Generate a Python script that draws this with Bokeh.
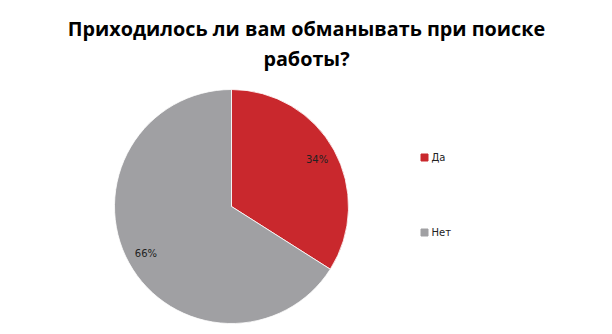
import math
from bokeh.plotting import figure
from bokeh.models import Range1d, ColumnDataSource
from bokeh.core.properties import value
from bokeh.embed import file_html
from bokeh.resources import INLINE

title_lines = ["Приходилось ли вам обманывать при поиске", "работы?"]
categories = ["Да", "Нет"]
values = [34, 66]
colors = ["#C9282D", "#A0A0A3"]

W, H = 612, 334
p = figure(width=W, height=H, output_backend="svg", toolbar_location=None,
           x_range=Range1d(0, W), y_range=Range1d(0, H), min_border=0)
p.axis.visible = False
p.grid.visible = False
p.outline_line_color = None
p.background_fill_color = "white"
p.border_fill_color = "white"


def Y(py):
    return H - py


cx, cy, R = 231, Y(206), 117
total = sum(values)
# clockwise from 12 o'clock
starts, ends, lx, ly, labels = [], [], [], [], []
a = math.pi / 2
for v in values:
    frac = v / total
    e = a
    s = a - 2 * math.pi * frac
    starts.append(s)
    ends.append(e)
    m = (s + e) / 2
    lx.append(cx + 0.835 * R * math.cos(m))
    ly.append(cy + 0.835 * R * math.sin(m))
    labels.append(f"{round(frac * 100)}%")
    a = s

src = ColumnDataSource(dict(start=starts, end=ends, color=colors, lx=lx, ly=ly, lab=labels))
p.wedge(x=cx, y=cy, radius=R, start_angle="start", end_angle="end", color="color",
        line_color="white", line_width=0.8, source=src, direction="anticlock")
p.text(x="lx", y="ly", text="lab", source=src, text_align="center", text_baseline="middle",
       text_font=value("DejaVu Sans"), text_font_size="10px", text_color="#222222")

# title
for i, t in enumerate(title_lines):
    p.text(x=[W / 2], y=[Y(28 + 30 * i)], text=[t], text_align="center", text_baseline="middle",
           text_font=value("Open Sans"), text_font_size="19.8px", text_font_style="bold",
           text_color="#000000")

# legend
leg_y = [Y(157), Y(232)]
p.rect(x=[424] * len(categories), y=leg_y, width=7, height=7, color=colors)
p.text(x=[431] * len(categories), y=leg_y, text=categories, text_baseline="middle",
       text_font=value("DejaVu Sans"), text_font_size="10px", text_color="#222222")

open("out.html", "w").write(file_html(p, INLINE))
